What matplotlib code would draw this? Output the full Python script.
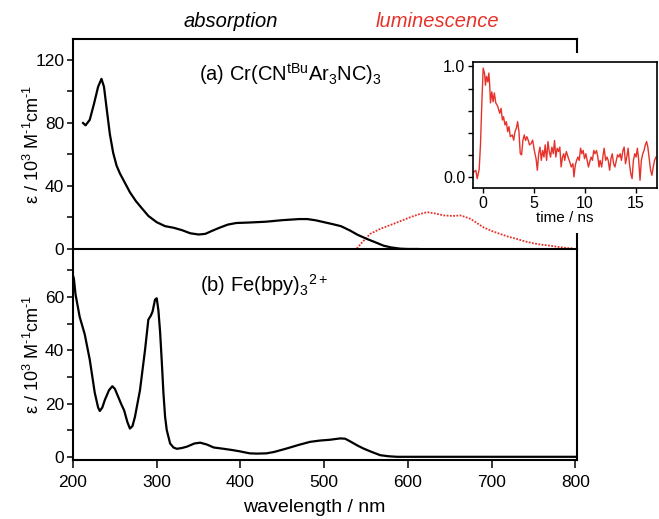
import numpy as np
import matplotlib
matplotlib.use("Agg")
import matplotlib.pyplot as plt
from matplotlib.patches import Rectangle
from matplotlib.ticker import MultipleLocator, FixedLocator

plt.rcParams['font.family'] = ['Liberation Sans', 'DejaVu Sans']
plt.rcParams['mathtext.fontset'] = 'custom'
plt.rcParams['mathtext.rm'] = 'Liberation Sans'
plt.rcParams['mathtext.it'] = 'Liberation Sans:italic'
plt.rcParams['mathtext.bf'] = 'Liberation Sans:bold'

RED = '#e5322a'

# (a) Cr complex absorption, nm / 10^3 M^-1 cm^-1
cr_nm = [212, 215, 220, 225, 230, 234, 237, 240, 244, 248, 252, 256, 262, 268,
         275, 282, 290, 300, 310, 320, 330, 340, 350, 358, 366, 375, 385, 395,
         410, 430, 450, 470, 480, 490, 500, 510, 520, 531, 540, 551, 560, 571,
         580, 591, 600, 612]
cr_eps = [80, 78.5, 82, 92, 103, 108, 103, 90, 73, 61, 53, 48, 42, 36,
          30.5, 26, 21, 17, 14.5, 13.5, 12, 10, 9.2, 9.6, 11.5, 13.5, 15.5, 16.5,
          16.8, 17.3, 18.3, 19, 19, 18.2, 17, 15.8, 14.5, 11.7, 9, 6.4, 4.5, 2.1,
          1, 0.2, 0, 0]

# (a) luminescence spectrum, same scale
lum_nm = [539, 545, 555, 567, 583, 603, 613, 623, 633, 643, 653, 663, 675, 690,
          700, 710, 720, 730, 740, 750, 760, 770, 780, 790, 797]
lum_int = [0.3, 4, 9.6, 12.8, 16, 20.2, 22, 23.4, 22.5, 21.3, 21.0, 21.3, 19.1, 13.8,
           11.5, 9.6, 7.8, 6.4, 4.8, 3.6, 2.7, 2.1, 1.3, 0.6, 0.4]

# (b) Fe(bpy)3 2+ absorption
fe_nm = [200, 201, 203, 208, 214, 220, 226, 230, 232, 235, 238, 243, 247, 250,
         254, 258, 261, 265, 268, 271, 274, 280, 286, 290, 293, 295, 298, 300,
         302, 304, 306, 308, 310, 312, 316, 320, 324, 330, 336, 345, 352, 360,
         368, 380, 391, 400, 411, 420, 431, 440, 455, 470, 483, 495, 507, 519,
         525, 531, 540, 547, 557, 567, 577, 587, 600, 700, 800]
fe_eps = [68, 67, 61, 52.5, 46, 36.5, 24, 18.5, 17.2, 18.5, 21.3, 25, 26.5, 25.5,
          22.5, 19.5, 17.5, 13, 10.6, 11.5, 15, 25, 40, 51.5, 53, 54.5, 59, 59.5,
          55, 47, 36, 24, 15, 10, 5, 3.5, 3, 3.3, 3.8, 5, 5.3, 4.6,
          3.5, 3, 2.5, 2, 1.3, 1.2, 1.3, 1.8, 3.1, 4.5, 5.6, 6.1, 6.4, 6.9,
          6.8, 5.8, 4.2, 3.1, 1.8, 0.6, 0.2, 0, 0, 0, 0]

# luminescence decay trace (inset)
decay_t = [-0.91, -0.72, -0.59, -0.39, -0.26, -0.13, 0.0, 0.13, 0.23, 0.33, 0.46,
           0.56, 0.65, 0.72, 0.85, 0.98, 1.1, 1.24, 1.43, 1.63, 1.76, 1.89, 2.0,
           2.15, 2.28, 2.41, 2.54, 2.67, 2.87, 3.0, 3.13, 3.26, 3.39, 3.52, 3.65,
           3.78, 3.91, 4.04, 4.17, 4.3, 4.43, 4.56, 4.7, 4.87, 5.03, 5.2, 5.33,
           5.46, 5.59, 5.72, 5.85, 5.98, 6.1, 6.24, 6.37, 6.5, 6.63, 6.76, 6.9,
           7.02, 7.15, 7.28, 7.41, 7.54, 7.67, 7.8, 7.93, 8.02, 8.18, 8.35, 8.5,
           8.67, 8.83, 8.93, 9.06, 9.19, 9.32, 9.45, 9.58, 9.71, 9.84, 9.97, 10.1,
           10.23, 10.36, 10.49, 10.62, 10.75, 10.88, 11.0, 11.15, 11.28, 11.4,
           11.5, 11.66, 11.8, 11.9, 12.05, 12.18, 12.3, 12.44, 12.57, 12.7, 12.83,
           12.96, 13.1, 13.22, 13.35, 13.48, 13.6, 13.75, 13.87, 14.0, 14.13,
           14.26, 14.39, 14.52, 14.65, 14.78, 14.91, 15.04, 15.17, 15.3, 15.43,
           15.56, 15.7, 15.83, 15.95, 16.08, 16.2, 16.34, 16.47, 16.6, 16.73,
           16.86, 17.0]
decay_v = [0.045, 0.06, -0.015, 0.07, 0.30, 0.67, 0.985, 0.94, 0.83, 0.91, 0.86,
           0.94, 0.82, 0.67, 0.77, 0.68, 0.76, 0.67, 0.64, 0.576, 0.62, 0.515, 0.545,
           0.47, 0.5, 0.41, 0.455, 0.364, 0.38, 0.333, 0.41, 0.44, 0.5, 0.41, 0.21,
           0.2, 0.333, 0.38, 0.33, 0.364, 0.333, 0.29, 0.30, 0.333, 0.24, 0.167, 0.06,
           0.21, 0.27, 0.15, 0.24, 0.18, 0.29, 0.15, 0.32, 0.23, 0.18, 0.27, 0.21,
           0.33, 0.18, 0.26, 0.23, 0.27, 0.09, 0.18, 0.21, 0.15, 0.23, 0.18, 0.14,
           0.09, 0.12, 0.0, 0.105, 0.15, 0.18, 0.15, 0.26, 0.21, 0.24, 0.165, 0.21,
           0.15, 0.09, 0.14, 0.18, 0.15, 0.24, 0.21, 0.24, 0.18, 0.09,
           0.15, 0.09, 0.2, 0.26, 0.15, 0.18, 0.15, 0.06, 0.165, 0.21, 0.12,
           0.09, 0.15, 0.2, 0.18, 0.21, 0.15, 0.24, 0.27, 0.12, 0.18,
           0.26, 0.12, 0.03, -0.015, 0.15, 0.21, 0.18, 0.26, 0.15, -0.03,
           0.15, 0.21, 0.24, 0.29, 0.32, 0.27, 0.165, 0.06, 0.015, 0.09,
           0.15, 0.18]

W, H = 659, 519
fig = plt.figure(figsize=(W / 100, H / 100), dpi=100)


def px_box(x0, y0, x1, y1):
    return [x0 / W, 1 - y1 / H, (x1 - x0) / W, (y1 - y0) / H]


ax2 = fig.add_axes(px_box(73, 249, 577, 460), zorder=0)
ax1 = fig.add_axes(px_box(73, 39, 577, 249), zorder=0.5)
ax1.patch.set_visible(False)

ylab = 'ε / 10$^3$ M$^{‐1}$cm$^{‐1}$'

for ax in (ax1, ax2):
    for s in ax.spines.values():
        s.set_linewidth(1.5)
    ax.set_xlim(200, 802)
    ax.tick_params(axis='both', which='both', direction='out', width=1.1,
                   labelsize=12.5, colors='black')
    ax.tick_params(axis='y', which='both', length=4.3, right=False, pad=2)
    ax.set_ylabel(ylab, fontsize=13)
    ax.yaxis.set_label_coords(-0.06, 0.5)

# top panel
ax1.plot(cr_nm, cr_eps, color='black', lw=1.6, zorder=3)
ax1.plot(lum_nm, lum_int, color=RED, lw=1.3, ls=(0, (1, 0.8)), zorder=2)
ax1.set_ylim(0, 133.3)
ax1.yaxis.set_major_locator(FixedLocator([0, 40, 80, 120]))
ax1.yaxis.set_minor_locator(FixedLocator([20, 60, 100]))
ax1.tick_params(axis='x', which='both', bottom=False, labelbottom=False)
ax1.text(199 / W, 1 - 81 / H, '(a) Cr(CN$^{\\mathrm{tBu}}$Ar$_3$NC)$_3$',
         transform=fig.transFigure, fontsize=14.5, va='baseline', ha='left')

# bottom panel
ax2.plot(fe_nm, fe_eps, color='black', lw=1.6, zorder=3)
ax2.set_ylim(-1.2, 78)
ax2.spines['top'].set_visible(False)
ax2.yaxis.set_major_locator(FixedLocator([0, 20, 40, 60]))
ax2.yaxis.set_minor_locator(FixedLocator([10, 30, 50, 70]))
ax2.xaxis.set_major_locator(MultipleLocator(100))
ax2.tick_params(axis='x', which='major', length=6, pad=5)
ax2.text(200 / W, 1 - 292 / H, '(b) Fe(bpy)$_3$$^{2+}$',
         transform=fig.transFigure, fontsize=14.5, va='baseline', ha='left')

fig.text(314 / W, 1 - 507 / H, 'wavelength / nm', fontsize=14,
         ha='center', va='center')
fig.text(231 / W, 1 - 22 / H, 'absorption', fontsize=14.5, style='italic',
         ha='center', va='center')
fig.text(437 / W, 1 - 22 / H, 'luminescence', fontsize=14.5, style='italic',
         color=RED, ha='center', va='center')

# white strip hiding the frame behind the inset
fig.add_artist(Rectangle((568 / W, 1 - 233 / H), 16 / W, 180 / H,
                         transform=fig.transFigure, facecolor='white',
                         edgecolor='none', zorder=1))

# inset: decay trace
axi = fig.add_axes(px_box(473, 62, 657, 188), zorder=2)
axi.plot(decay_t, decay_v, color=RED, lw=1.0)
axi.set_xlim(-1, 17.1)
axi.set_ylim(-0.1, 1.04)
axi.xaxis.set_major_locator(FixedLocator([0, 5, 10, 15]))
axi.yaxis.set_major_locator(FixedLocator([0.0, 1.0]))
axi.yaxis.set_minor_locator(FixedLocator([0.2, 0.4, 0.6, 0.8]))
axi.set_yticklabels(['0.0', '1.0'])
axi.tick_params(axis='both', which='both', direction='out', length=3.5,
                width=1.0, labelsize=11.5, pad=2)
for s in axi.spines.values():
    s.set_linewidth(1.2)
axi.set_xlabel('time / ns', fontsize=11, labelpad=0)

fig.savefig('out.png', dpi=100)
